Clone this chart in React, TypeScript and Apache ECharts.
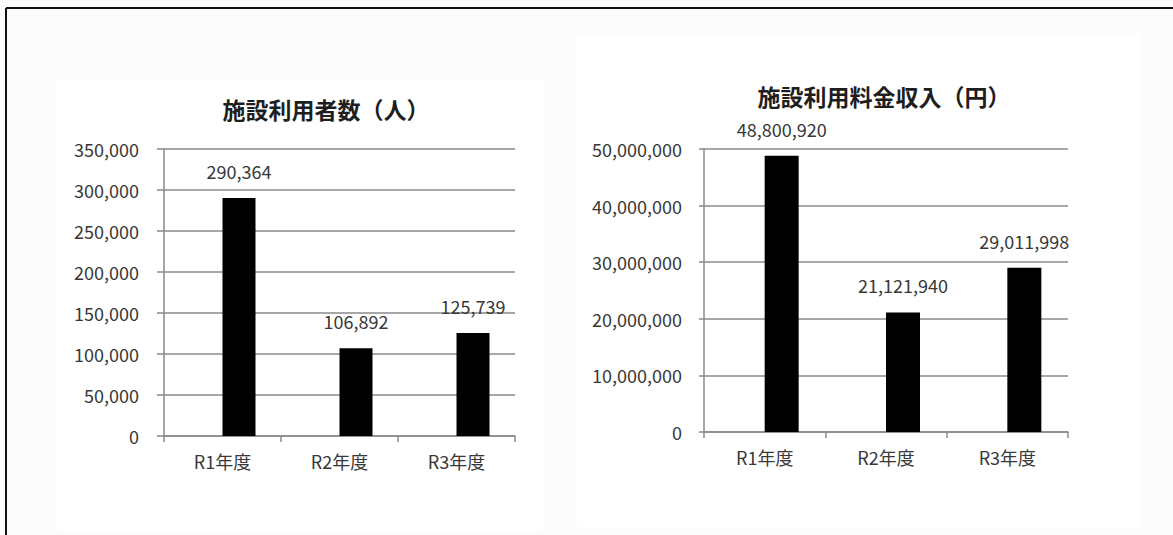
import React, { useEffect, useRef } from "react";
import * as echarts from "echarts";

// ---- data ----
const categories = ["R1年度", "R2年度", "R3年度"];
const visitorTitle = "施設利用者数（人）";
const revenueTitle = "施設利用料金収入（円）";
const visitors = [290364, 106892, 125739];
const revenue = [48800920, 21121940, 29011998];
const emptySeries = [null, null, null]; // empty first series (as in the source spreadsheet), which offsets the bars
const visitorAxis = { min: 0, max: 350000, interval: 50000 };
const revenueAxis = { min: 0, max: 50000000, interval: 10000000 };

const FONT = "'Noto Sans CJK JP', 'Noto Sans', sans-serif";
const TXT = "#383838";
const GRID = "#8a8a8a";
const fmt = (v: number) => Number(v).toLocaleString("en-US");

function xAxis(gridIndex: number) {
  return {
    type: "category",
    gridIndex,
    data: categories,
    axisLine: { show: true, lineStyle: { color: GRID, width: 1.5 } },
    axisTick: { show: true, length: 6, lineStyle: { color: GRID, width: 1.5 } },
    axisLabel: { margin: 16, fontSize: 18, color: TXT, fontFamily: FONT },
  };
}

function yAxis(gridIndex: number, ax: { min: number; max: number; interval: number }, margin: number, tick: number) {
  return {
    type: "value",
    gridIndex,
    min: ax.min,
    max: ax.max,
    interval: ax.interval,
    axisLine: { show: true, lineStyle: { color: GRID, width: 1.5 } },
    axisTick: { show: true, length: tick, lineStyle: { color: GRID, width: 1.5 } },
    splitLine: { show: true, lineStyle: { color: GRID, width: 1.5 } },
    axisLabel: { margin, fontSize: 18, color: TXT, fontFamily: FONT, formatter: (v: number) => fmt(v) },
  };
}

function bars(idx: number, data: number[], width: number) {
  return [
    {
      type: "bar",
      name: "blank",
      xAxisIndex: idx,
      yAxisIndex: idx,
      data: emptySeries,
      barWidth: width,
      barGap: "0%",
      itemStyle: { color: "#000" },
    },
    {
      type: "bar",
      name: idx === 0 ? visitorTitle : revenueTitle,
      xAxisIndex: idx,
      yAxisIndex: idx,
      data,
      barWidth: width,
      barGap: "0%",
      itemStyle: { color: "#000" },
      label: {
        show: true,
        position: "top",
        distance: 18,
        fontSize: 18,
        color: TXT,
        fontFamily: FONT,
        formatter: (p: any) => fmt(p.value),
      },
    },
  ];
}

export default function App() {
  const ref = useRef<HTMLDivElement>(null);
  useEffect(() => {
    if (!ref.current) return;
    const chart = echarts.init(ref.current, null, { renderer: "svg" });
    chart.setOption({
      animation: false,
      backgroundColor: "#fcfcfc",
      title: [
        {
          text: visitorTitle,
          left: 326,
          top: 97,
          textAlign: "center",
          padding: 0,
          textStyle: { fontSize: 23, fontWeight: "bold", color: "#1e1e1e", fontFamily: FONT },
        },
        {
          text: revenueTitle,
          left: 884,
          top: 84,
          textAlign: "center",
          padding: 0,
          textStyle: { fontSize: 23, fontWeight: "bold", color: "#1e1e1e", fontFamily: FONT },
        },
      ],
      graphic: [
        { type: "rect", z: -10, shape: { x: 57, y: 80, width: 486, height: 450 }, style: { fill: "#ffffff" } },
        { type: "rect", z: -10, shape: { x: 577, y: 35, width: 562, height: 492 }, style: { fill: "#ffffff" } },
        { type: "line", shape: { x1: 6, y1: 8, x2: 1173, y2: 8 }, style: { stroke: "#111", lineWidth: 2 } },
        { type: "line", shape: { x1: 6, y1: 8, x2: 6, y2: 535 }, style: { stroke: "#111", lineWidth: 2 } },
      ],
      grid: [
        { left: 164, top: 149, width: 351, height: 287 },
        { left: 704, top: 149, width: 364, height: 283 },
      ],
      xAxis: [xAxis(0), xAxis(1)],
      yAxis: [yAxis(0, visitorAxis, 25, 7), yAxis(1, revenueAxis, 22, 5)],
      series: [...bars(0, visitors, 33), ...bars(1, revenue, 34)],
    });
    return () => chart.dispose();
  }, []);
  return (
    <div
      ref={ref}
      style={{ position: "fixed", left: 0, top: 0, width: 1173, height: 535 }}
    />
  );
}
